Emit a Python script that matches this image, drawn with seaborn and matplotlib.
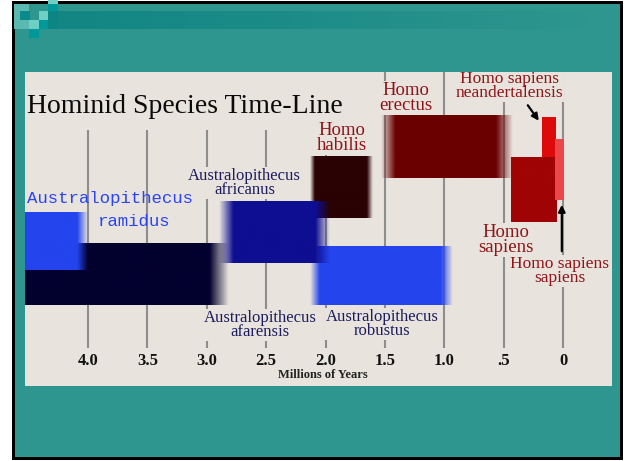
"""Hominid species time-line, redrawn as a slide with a floating-bar chart."""
import matplotlib

matplotlib.use("Agg")
import matplotlib.pyplot as plt
import numpy as np
import seaborn as sns
from matplotlib.colors import to_rgb
from matplotlib.patches import Rectangle

sns.set_theme(style="white")
plt.rcParams["font.family"] = ["Liberation Serif", "DejaVu Serif"]

# ---- data: time span of each species, millions of years ago ----
species = [
    "Australopithecus ramidus",
    "Australopithecus afarensis",
    "Australopithecus africanus",
    "Homo habilis",
    "Australopithecus robustus",
    "Homo erectus",
    "Homo sapiens neandertalensis",
    "Homo sapiens",
    "Homo sapiens sapiens",
]
start_mya = [4.6, 4.6, 2.9, 2.13, 2.13, 1.53, 0.18, 0.44, 0.07]
end_mya = [4.0, 2.82, 1.97, 1.6, 0.93, 0.42, 0.07, 0.06, 0.0]
tick_values = [4.0, 3.5, 3.0, 2.5, 2.0, 1.5, 1.0, 0.5, 0.0]
tick_labels = ["4.0", "3.5", "3.0", "2.5", "2.0", "1.5", "1.0", ".5", "0"]
title = "Hominid Species Time-Line"
x_title = "Millions of Years"

# ---- layout / style (image pixels for vertical bands) ----
band_top = [212, 243, 201, 157, 246, 115, 117, 158, 140]
band_bottom = [270, 305, 263, 218, 305, 178, 165, 222, 200]
fade_left = [0, 0, 0.12, 0.04, 0.08, 0.12, 0, 0, 0]
fade_right = [0.09, 0.16, 0.12, 0.05, 0.10, 0.14, 0, 0, 0]
bar_colors = ["#2444ee", "#03002e", "#0e0e92", "#2a0204", "#2444ee",
              "#6a0000", "#dd0a0a", "#a00404", "#ea4848"]
draw_order = [3, 4, 2, 1, 0, 5, 6, 7, 8]
grid_top = [130, 130, 130, 130, 130, 72, 72, 72, 72]  # lines under the title start lower

# label anchor: (x in Mya, y in px), font size, colour
label_pos = [None, (2.55, 325), (2.68, 183), (1.86, 138), (1.52, 324),
             (1.32, 98), (0.45, 86), (0.48, 240), (0.03, 271)]
label_size = [0, 12, 12, 13.5, 12, 13.5, 12.5, 13.5, 12.5]
navy, maroon = "#1c1c5e", "#8e1418"
label_color = [None, navy, navy, maroon, navy, maroon, maroon, maroon, maroon]

W, H = 626, 461
PANEL = (25, 72, 612, 386)
BG = "#e8e4dd"
TEAL = "#2e968e"


def px_rect(fig, x0, y0, x1, y1, z, **kw):
    fig.add_artist(Rectangle((x0 / W, 1 - y1 / H), (x1 - x0) / W, (y1 - y0) / H,
                             transform=fig.transFigure, zorder=z, **kw))


def draw_bar(ax, x0, x1, top, bottom, color, fl, fr, z):
    n = 400
    xs = np.linspace(0, 1, n)
    span = abs(x0 - x1)
    alpha = np.ones(n)
    if fl > 0:
        alpha = np.minimum(alpha, np.clip(xs * span / fl, 0, 1))
    if fr > 0:
        alpha = np.minimum(alpha, np.clip((1 - xs) * span / fr, 0, 1))
    rgba = np.zeros((1, n, 4))
    rgba[..., :3] = to_rgb(color)
    rgba[..., 3] = alpha
    ax.imshow(rgba, extent=(x0, x1, bottom, top), aspect="auto",
              interpolation="bilinear", zorder=z)


fig = plt.figure(figsize=(W / 100, H / 100), dpi=100)
fig.patch.set_facecolor("white")

# slide frame and header decoration
px_rect(fig, 12, 1, 623, 460, -12, facecolor="black", edgecolor="none")
px_rect(fig, 15, 4, 620, 457, -11, facecolor=TEAL, edgecolor="none")
band = fig.add_axes([58 / W, 1 - 29 / H, (590 - 58) / W, 18 / H])
band.set_zorder(-8)
ramp = np.zeros((1, 300, 4))
ramp[..., :3] = to_rgb("#0c8282")
ramp[..., 3] = np.clip(1 - np.linspace(0, 1, 300) ** 1.2, 0, 1) * 0.8
band.imshow(ramp, aspect="auto", extent=(0, 1, 0, 1))
band.axis("off")
squares = [(14, 4, 29, 29, "#5bb9b1"), (48, 0, 58, 4, "#6ecfc5"),
           (20, 11, 30, 20, "#0a8a8a"), (39, 11, 48, 20, "#6ecfc5"),
           (48, 4, 58, 11, "#009999"), (48, 11, 58, 29, "#0c8585"),
           (29, 20, 39, 29, "#6ecfc5"),
           (39, 20, 48, 29, "#009999"), (29, 29, 39, 38, "#009999")]
for x0, y0, x1, y1, c in squares:
    px_rect(fig, x0, y0, x1, y1, -9, facecolor=c, edgecolor="none")

# chart panel
ax = fig.add_axes([PANEL[0] / W, 1 - PANEL[3] / H,
                   (PANEL[2] - PANEL[0]) / W, (PANEL[3] - PANEL[1]) / H])
ax.set_facecolor(BG)

px_per_my = 118.75
x_left = (563 - PANEL[0]) / px_per_my
x_right = (563 - PANEL[2]) / px_per_my

ax.vlines(tick_values, grid_top, 348, color="#8d8d8d", lw=1.5, zorder=1)

for z, i in enumerate(draw_order):
    draw_bar(ax, start_mya[i], end_mya[i], band_top[i], band_bottom[i],
             bar_colors[i], fade_left[i], fade_right[i], 2 + z * 0.1)

ax.text(4.51, 113, title, ha="left", va="baseline", fontsize=20, color="#0a0a0a",
        zorder=3.5)

# labels
for i, name in enumerate(species):
    if label_pos[i] is None:
        continue
    genus, sp = name.rsplit(" ", 1)
    ax.text(label_pos[i][0], label_pos[i][1], f"{genus}\n{sp}", ha="center",
            va="center", fontsize=label_size[i], color=label_color[i],
            linespacing=0.78, zorder=4, clip_on=True,
            bbox=dict(boxstyle="square,pad=0.05", fc=BG, ec="none"))

genus, sp = species[0].split(" ")
ax.text(4.51, 199, genus, ha="left", va="center", fontsize=12.5,
        family=["Liberation Mono", "DejaVu Sans Mono"], color="#2b44f2", zorder=4)
ax.text(3.92, 221, sp, ha="left", va="center", fontsize=12.5,
        family=["Liberation Mono", "DejaVu Sans Mono"], color="#2b44f2", zorder=4)

# arrows
arrow = dict(arrowstyle="-|>", color="black", lw=1.6, mutation_scale=10)
ax.annotate("", xy=(0.19, 123), xytext=(0.31, 103), arrowprops=arrow, zorder=5)
ax.annotate("", xy=(0.01, 202), xytext=(0.01, 254), arrowprops=arrow, zorder=5)

ax.set_xlim(x_left, x_right)
ax.set_ylim(PANEL[3], PANEL[1])
ax.set_xticks(tick_values)
ax.set_xticklabels(tick_labels, fontweight="bold", fontsize=12, color="#111111")
ax.tick_params(axis="x", length=0, pad=-24)
ax.set_yticks([])
ax.set_xlabel(x_title, fontweight="bold", fontsize=9, color="#222222")
ax.xaxis.set_label_coords((323 - PANEL[0]) / (PANEL[2] - PANEL[0]),
                          (PANEL[3] - 369) / (PANEL[3] - PANEL[1]))
sns.despine(ax=ax, left=True, bottom=True)
ax.grid(False)

fig.savefig("out.png", dpi=100, facecolor=fig.get_facecolor())
